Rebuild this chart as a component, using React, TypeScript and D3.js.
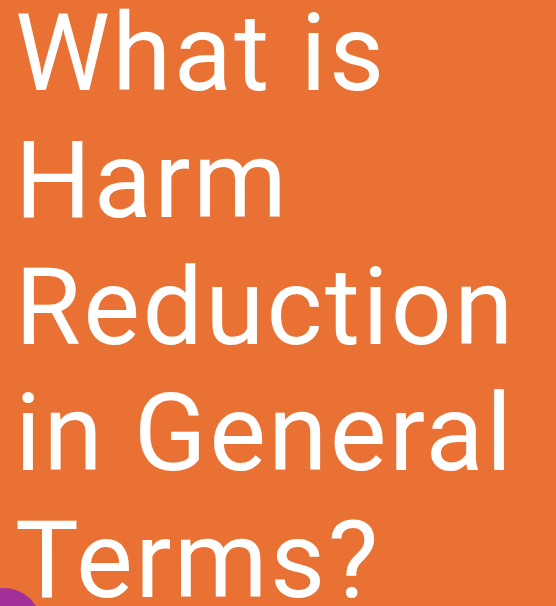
import { useEffect, useRef } from 'react'
import * as d3 from 'd3'

// title lines, top to bottom
const titleLines = ['What is', 'Harm', 'Reduction', 'in General', 'Terms?']
const lineIndex = titleLines.map((_, i) => i)

const bgColor = '#e97133'
const accentColor = '#a2309b'

export default () => {
  const rootRef = useRef<SVGSVGElement>(null)

  useEffect(() => {
    const width = 556,
      height = 606

    const svg = d3.select(rootRef.current).attr('width', width).attr('height', height)
    svg.selectAll('*').remove()

    svg.append('rect').attr('width', width).attr('height', height).attr('fill', bgColor)

    // baseline of each line
    const y = d3
      .scaleLinear()
      .domain([0, titleLines.length - 1])
      .range([90, 597])

    svg
      .append('g')
      .selectAll('text')
      .data(lineIndex)
      .join('text')
      .attr('x', 15)
      .attr('y', (d) => y(d))
      .attr('fill', '#fff')
      .attr('font-family', 'Roboto, sans-serif')
      .attr('font-size', 107)
      .attr('letter-spacing', 2.4)
      .text((d) => titleLines[d])

    // purple blob in the bottom-left corner
    svg.append('circle').attr('cx', 4).attr('cy', 625).attr('r', 37).attr('fill', accentColor)
  }, [])

  return <svg ref={rootRef} style={{ position: 'absolute', left: 0, top: 0 }}></svg>
}
